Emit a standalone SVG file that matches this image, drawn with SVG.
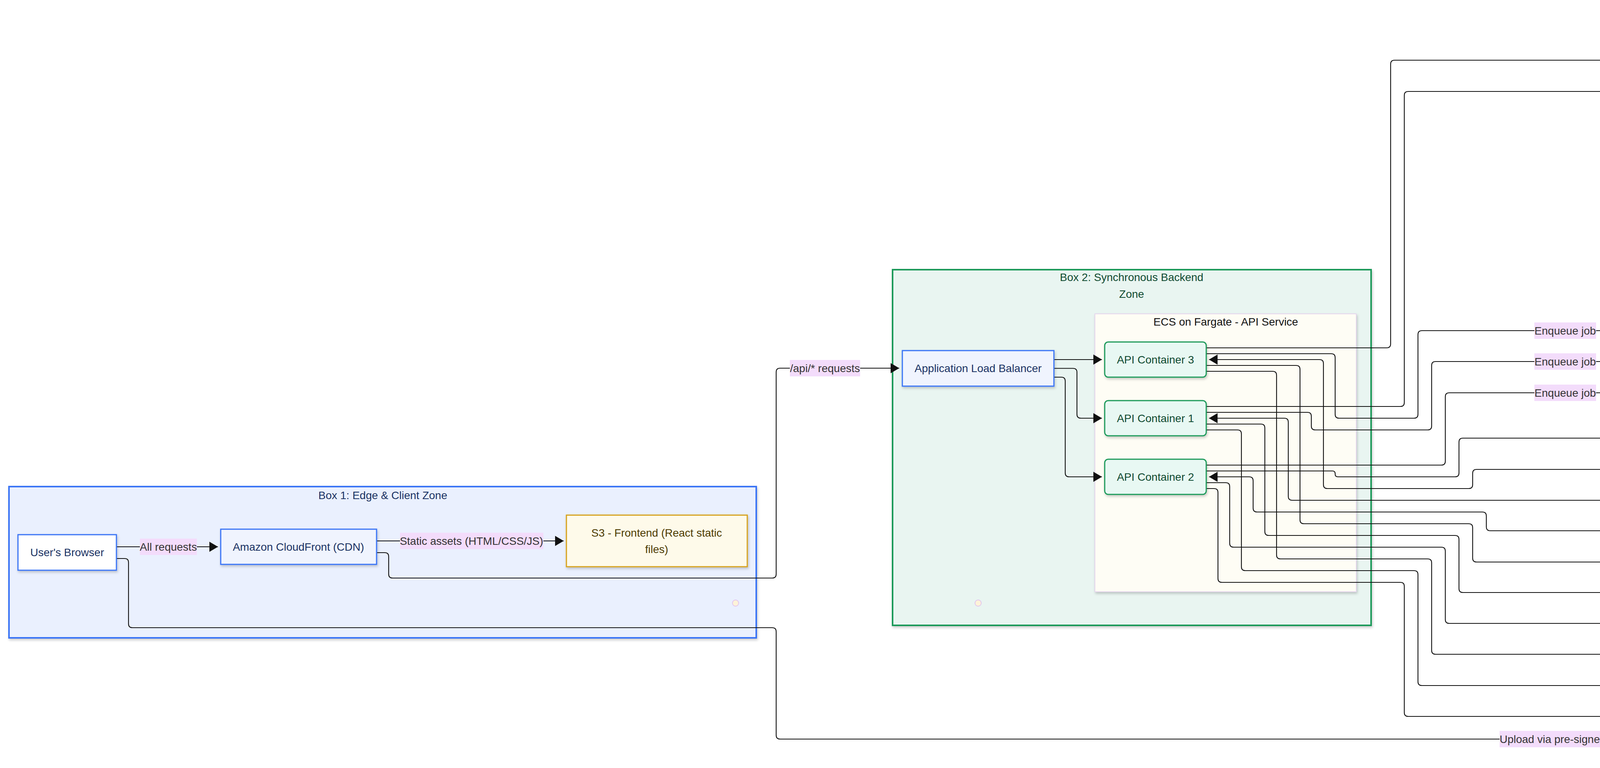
<svg xmlns="http://www.w3.org/2000/svg" width="6948" height="1965" viewBox="0 0 6948 1965">
<defs>
<filter id="sh" x="-10%" y="-10%" width="120%" height="130%">
<feDropShadow dx="2" dy="4" stdDeviation="3" flood-color="#000" flood-opacity="0.2"/>
</filter>
<marker id="arr" markerUnits="userSpaceOnUse" markerWidth="22" markerHeight="26" refX="22" refY="13" orient="auto-start-reverse" viewBox="0 0 22 26">
<path d="M0,0 L22,13 L0,26 Z" fill="#111"/>
</marker>
</defs>
<style>
text{font-family:"Liberation Sans",Arial,Helvetica,sans-serif;font-size:28px;text-anchor:middle;dominant-baseline:central}
.box{stroke-width:4;filter:url(#sh)}
.node{stroke-width:3;filter:url(#sh)}
.grp{stroke-width:2;filter:url(#sh)}
.dot{fill:#fdf3d8;stroke:#e2c6ee;stroke-width:2}
.e{fill:none;stroke:#111;stroke-width:2.2;marker-end:url(#arr)}
.bi{marker-start:url(#arr)}
.lb{fill:#f3dcfb}
.lt{fill:#333}
.blue{fill:#1a3263}
.green{fill:#0f4a30}
.brown{fill:#5c2c00}
.purple{fill:#2e1b5b}
.olive{fill:#4d3b00}
.black{fill:#111}
</style>
<rect width="6948" height="1965" fill="#ffffff"/>

<g id="box1">
<rect class="box" x="23" y="1245" width="1913" height="387" fill="#eaf0fe" stroke="#3b74f6"/>
<text class="blue" x="980" y="1267">Box 1: Edge &amp; Client Zone</text>
<ellipse class="dot" cx="1883" cy="1543" rx="8" ry="8"/>
</g>
<g id="box2">
<rect class="box" x="2285" y="690" width="1225" height="910" fill="#e9f5f1" stroke="#1e9a5a"/>
<text class="green" x="2897" y="709">Box 2: Synchronous Backend</text>
<text class="green" x="2897" y="752">Zone</text>
<ellipse class="dot" cx="2504" cy="1543" rx="8" ry="8"/>
</g>
<g id="ecs-api-service">
<rect class="grp" x="2803" y="803" width="669" height="711" fill="#fefdf5" stroke="#e6d6ee"/>
<text class="black" x="3138" y="823">ECS on Fargate - API Service</text>
</g>
<g id="box4">
<rect class="box" x="4330" y="324" width="993" height="707" fill="#fdf0e3" stroke="#ff8a1e"/>
<text class="brown" x="4826" y="346">Box 4: Asynchronous Backend</text>
<text class="brown" x="4826" y="388">Zone</text>
<ellipse class="dot" cx="4473" cy="976" rx="8" ry="8"/>
</g>
<g id="ecs-worker-service">
<rect class="grp" x="4346" y="439" width="415" height="377" fill="#fffef7" stroke="#d9c8f0"/>
<text class="black" x="4553" y="460">ECS on Fargate - Worker</text>
<text class="black" x="4553" y="501">Service</text>
</g>
<g id="box3">
<rect class="box" x="6290" y="50" width="586" height="1077" fill="#eee8fc" stroke="#6a44a8"/>
<text class="purple" x="6583" y="72">Box 3: Data &amp; Storage Zone</text>
<ellipse class="dot" cx="6628" cy="1071" rx="8" ry="8"/>
</g>

<g id="connectors">
<g id="e-all-requests">
<path class="e" d="M298,1399 L558,1399"/>
<rect class="lb" x="358" y="1378" width="146" height="42"/><text class="lt" x="431" y="1399">All requests</text>
</g>
<g id="e-static-assets">
<path class="e" d="M964,1384 L1443,1384"/>
<rect class="lb" x="1024" y="1363" width="367" height="42"/><text class="lt" x="1207" y="1384">Static assets (HTML/CSS/JS)</text>
</g>
<g id="e-api-requests">
<path class="e" d="M964,1414 L985,1414 Q995,1414 995,1424 L995,1469 Q995,1479 1005,1479 L1977,1479 Q1987,1479 1987,1469 L1987,952 Q1987,942 1997,942 L2302,942"/>
<rect class="lb" x="2022" y="921" width="180" height="42"/><text class="lt" x="2112" y="942">/api/* requests</text>
</g>
<path id="e-alb-c3" class="e" d="M2698,920 L2821,920"/>
<path id="e-alb-c1" class="e" d="M2698,942.5 L2747,942.5 Q2757,942.5 2757,952.5 L2757,1060 Q2757,1070 2767,1070 L2821,1070"/>
<path id="e-alb-c2" class="e" d="M2698,965 L2717,965 Q2727,965 2727,975 L2727,1210 Q2727,1220 2737,1220 L2821,1220"/>

<g id="e-writes-c3">
<path class="e" d="M3088,890 L3550,890 Q3560,890 3560,880 L3560,164 Q3560,154 3570,154 L6396,154"/>
<rect class="lb" x="4786" y="133" width="80" height="42"/><text class="lt" x="4826" y="154">Writes</text>
</g>
<g id="e-writes-c1">
<path class="e" d="M3088,1040 L3585,1040 Q3595,1040 3595,1030 L3595,244 Q3595,234 3605,234 L5741,234 Q5751,234 5751,224 L5751,195 Q5751,185 5761,185 L6396,185"/>
<rect class="lb" x="4786" y="213" width="80" height="42"/><text class="lt" x="4826" y="234">Writes</text>
</g>
<g id="e-writes-c2">
<path class="e" d="M3088,1205 L3411,1205 Q3418,1205 3418,1212 L3418,1213 Q3418,1220 3425,1220 L3725,1220 Q3735,1220 3735,1210 L3735,1131 Q3735,1121 3745,1121 L5846,1121 Q5856,1121 5856,1111 L5856,287 Q5856,277 5866,277 L6396,277"/>
<rect class="lb" x="4786" y="1100" width="80" height="42"/><text class="lt" x="4826" y="1121">Writes</text>
</g>

<g id="e-enqueue-c3">
<path class="e" d="M3088,905 L3408,905 Q3418,905 3418,915 L3418,1060 Q3418,1070 3428,1070 L3620,1070 Q3630,1070 3630,1060 L3630,856 Q3630,846 3640,846 L5016,846 Q5023,846 5023,853 Q5023,860 5030,860 L5078,860"/>
<rect class="lb" x="3928" y="825" width="158" height="42"/><text class="lt" x="4007" y="846">Enqueue job</text>
</g>
<g id="e-enqueue-c1">
<path class="e" d="M3088,1055 L3347,1055 Q3357,1055 3357,1065 L3357,1090 Q3357,1100 3367,1100 L3655,1100 Q3665,1100 3665,1090 L3665,935 Q3665,925 3675,925 L4199,925 Q4209,925 4209,915 L4209,888 Q4209,878 4219,878 L5078,878"/>
<rect class="lb" x="3928" y="904" width="158" height="42"/><text class="lt" x="4007" y="925">Enqueue job</text>
</g>
<g id="e-enqueue-c2">
<path class="e" d="M3088,1190 L3690,1190 Q3700,1190 3700,1180 L3700,1015 Q3700,1005 3710,1005 L4270,1005 Q4280,1005 4280,995 L4280,921 Q4280,911 4290,911 L5016,911 Q5023,911 5023,904 L5023,903 Q5023,896 5030,896 L5078,896"/>
<rect class="lb" x="3928" y="984" width="158" height="42"/><text class="lt" x="4007" y="1005">Enqueue job</text>
</g>

<g id="e-getset-c3">
<path class="e bi" d="M3095,920 L3378,920 Q3388,920 3388,930 L3388,1240 Q3388,1250 3398,1250 L3760,1250 Q3770,1250 3770,1240 L3770,1211 Q3770,1201 3780,1201 L5882,1201 Q5892,1201 5892,1191 L5892,421 Q5892,411 5902,411 L6396,411"/>
<rect class="lb" x="4766" y="1180" width="120" height="42"/><text class="lt" x="4826" y="1201">GET/SET</text>
</g>
<g id="e-getset-c1">
<path class="e bi" d="M3095,1070 L3288,1070 Q3298,1070 3298,1080 L3298,1270 Q3298,1280 3308,1280 L5916,1280 Q5926,1280 5926,1270 L5926,465 Q5926,455 5936,455 L6396,455"/>
<rect class="lb" x="4766" y="1259" width="120" height="42"/><text class="lt" x="4826" y="1280">GET/SET</text>
</g>
<g id="e-getset-c2">
<path class="e bi" d="M3095,1220 L3198,1220 Q3208,1220 3208,1230 L3208,1300 Q3208,1310 3218,1310 L3795,1310 Q3805,1310 3805,1320 L3805,1348 Q3805,1358 3815,1358 L5951,1358 Q5961,1358 5961,1348 L5961,508 Q5961,498 5971,498 L6396,498"/>
<rect class="lb" x="4766" y="1337" width="120" height="42"/><text class="lt" x="4826" y="1358">GET/SET</text>
</g>

<g id="e-reads-c3">
<path class="e" d="M3088,935 L3318,935 Q3328,935 3328,945 L3328,1330 Q3328,1340 3338,1340 L3760,1340 Q3770,1340 3770,1350 L3770,1428 Q3770,1438 3780,1438 L5986,1438 Q5996,1438 5996,1428 L5996,668 Q5996,658 6006,658 L6396,658"/>
<rect class="lb" x="4785" y="1417" width="82" height="42"/><text class="lt" x="4826" y="1438">Reads</text>
</g>
<g id="e-reads-c1">
<path class="e" d="M3088,1085 L3228,1085 Q3238,1085 3238,1095 L3238,1360 Q3238,1370 3248,1370 L3725,1370 Q3735,1370 3735,1380 L3735,1506 Q3735,1516 3745,1516 L6021,1516 Q6031,1516 6031,1506 L6031,725 Q6031,715 6041,715 L6396,715"/>
<rect class="lb" x="4785" y="1495" width="82" height="42"/><text class="lt" x="4826" y="1516">Reads</text>
</g>
<g id="e-reads-c2">
<path class="e" d="M3088,1235 L3138,1235 Q3148,1235 3148,1245 L3148,1390 Q3148,1400 3158,1400 L3690,1400 Q3700,1400 3700,1410 L3700,1585 Q3700,1595 3710,1595 L6056,1595 Q6066,1595 6066,1585 L6066,782 Q6066,772 6076,772 L6396,772"/>
<rect class="lb" x="4785" y="1574" width="82" height="42"/><text class="lt" x="4826" y="1595">Reads</text>
</g>

<g id="e-gen-c3">
<path class="e" d="M3088,950 L3258,950 Q3268,950 3268,960 L3268,1420 Q3268,1430 3278,1430 L3655,1430 Q3665,1430 3665,1440 L3665,1664 Q3665,1674 3675,1674 L6091,1674 Q6101,1674 6101,1664 L6101,906 Q6101,896 6111,896 L6340,896 Q6345,896 6345,901 L6345,902 Q6345,907 6350,907 L6396,907"/>
<rect class="lb" x="4666" y="1653" width="321" height="42"/><text class="lt" x="4826" y="1674">Generate pre-signed URL</text>
</g>
<g id="e-gen-c1">
<path class="e" d="M3088,1100 L3168,1100 Q3178,1100 3178,1110 L3178,1450 Q3178,1460 3188,1460 L3620,1460 Q3630,1460 3630,1470 L3630,1744 Q3630,1754 3640,1754 L6126,1754 Q6136,1754 6136,1744 L6136,935 Q6136,925 6146,925 L6396,925"/>
<rect class="lb" x="4666" y="1733" width="321" height="42"/><text class="lt" x="4826" y="1754">Generate pre-signed URL</text>
</g>
<g id="e-gen-c2">
<path class="e" d="M3088,1250 L3108,1250 Q3118,1250 3118,1260 L3118,1480 Q3118,1490 3128,1490 L3585,1490 Q3595,1490 3595,1500 L3595,1823 Q3595,1833 3605,1833 L6161,1833 Q6171,1833 6171,1823 L6171,967 Q6171,957 6181,957 L6339,957 Q6345,957 6345,951 L6345,950 Q6345,944 6351,944 L6396,944"/>
<rect class="lb" x="4666" y="1812" width="321" height="42"/><text class="lt" x="4826" y="1833">Generate pre-signed URL</text>
</g>
<g id="e-upload">
<path class="e" d="M298,1429 L319,1429 Q329,1429 329,1439 L329,1596 Q329,1606 339,1606 L1977,1606 Q1987,1606 1987,1616 L1987,1881 Q1987,1891 1997,1891 L6196,1891 Q6206,1891 6206,1881 L6206,995 Q6206,985 6216,985 L6363,985 Q6373,985 6373,975 L6373,972 Q6373,962 6383,962 L6396,962"/>
<rect class="lb" x="3839" y="1870" width="336" height="42"/><text class="lt" x="4007" y="1891">Upload via pre-signed URL</text>
</g>

<g id="e-exec-w2">
<path class="e" d="M4642,598 L5777,598 Q5787,598 5787,588 L5787,225 Q5787,215 5797,215 L6396,215"/>
<rect class="lb" x="5407" y="577" width="310" height="42"/><text class="lt" x="5562" y="598">Execute task (read/write)</text>
</g>
<g id="e-exec-w1">
<path class="e" d="M4642,747 L4771,747 Q4781,747 4781,737 L4781,733 Q4781,723 4791,723 L5360,723 Q5370,723 5370,713 L5370,687 Q5370,677 5380,677 L5811,677 Q5821,677 5821,667 L5821,256 Q5821,246 5831,246 L6396,246"/>
<rect class="lb" x="5407" y="656" width="310" height="42"/><text class="lt" x="5562" y="677">Execute task (read/write)</text>
</g>
<g id="e-poll">
<path class="e" d="M4761,777 L5044,777 Q5054,777 5054,787 L5054,833 Q5054,843 5064,843 L5078,843"/>
<rect class="lb" x="4812" y="756" width="182" height="42"/><text class="lt" x="4903" y="777">Poll messages</text>
</g>
</g>

<g id="users-browser">
<rect class="node" x="46" y="1368" width="252" height="91" fill="#ffffff" stroke="#3b74f6"/>
<text class="blue" x="172" y="1413">User's Browser</text>
</g>
<g id="cloudfront">
<rect class="node" x="565" y="1354" width="399" height="90" fill="#f0f4fe" stroke="#3b74f6"/>
<text class="blue" x="764" y="1399">Amazon CloudFront (CDN)</text>
</g>
<g id="s3-frontend">
<rect class="node" x="1450" y="1318" width="463" height="132" fill="#fefaea" stroke="#d6a21e"/>
<text class="olive" x="1681" y="1363">S3 - Frontend (React static</text>
<text class="olive" x="1681" y="1405">files)</text>
</g>
<g id="alb">
<rect class="node" x="2310" y="897" width="388" height="91" fill="#f0f4fe" stroke="#3b74f6"/>
<text class="blue" x="2504" y="942">Application Load Balancer</text>
</g>
<g id="api-container-3">
<rect class="node" x="2828" y="875" width="260" height="90" rx="9" fill="#e8f8f3" stroke="#1e9a5a"/>
<text class="green" x="2958" y="920">API Container 3</text>
</g>
<g id="api-container-1">
<rect class="node" x="2828" y="1025" width="260" height="90" rx="9" fill="#e8f8f3" stroke="#1e9a5a"/>
<text class="green" x="2958" y="1070">API Container 1</text>
</g>
<g id="api-container-2">
<rect class="node" x="2828" y="1175" width="260" height="90" rx="9" fill="#e8f8f3" stroke="#1e9a5a"/>
<text class="green" x="2958" y="1220">API Container 2</text>
</g>
<g id="worker-2">
<rect class="node" x="4466" y="553" width="176" height="90" rx="9" fill="#fde8d6" stroke="#ff931e"/>
<text class="brown" x="4554" y="598">Worker 2</text>
</g>
<g id="worker-1">
<rect class="node" x="4466" y="702" width="176" height="91" rx="9" fill="#fde8d6" stroke="#ff931e"/>
<text class="brown" x="4554" y="747">Worker 1</text>
</g>
<g id="sqs-queue">
<rect class="node" x="5085" y="824" width="214" height="90" fill="#fdebd8" stroke="#ff9a33"/>
<text class="brown" x="5192" y="869">SQS Queue</text>
</g>
<g id="rds-primary">
<path class="node" d="M6405,154 L6405,276 A213.5,31 0 0 0 6832,276 L6832,154 A213.5,31 0 0 0 6405,154 Z" fill="#f2ebfd" stroke="#6a44a8"/>
<path d="M6405,154 A213.5,31 0 0 0 6832,154" fill="none" stroke="#6a44a8" stroke-width="3"/>
<text class="purple" x="6618" y="230">RDS for PostgreSQL - Primary</text>
</g>
<g id="elasticache-redis">
<path class="node" d="M6405,396 L6405,513 A158,28 0 0 0 6721,513 L6721,396 A158,28 0 0 0 6405,396 Z" fill="#fef6e6" stroke="#f5a21e"/>
<path d="M6405,396 A158,28 0 0 0 6721,396" fill="none" stroke="#f5a21e" stroke-width="3"/>
<text class="brown" x="6563" y="469">ElastiCache for Redis</text>
</g>
<g id="rds-read-replica">
<path class="node" d="M6405,633 L6405,798 A223.5,32 0 0 0 6852,798 L6852,633 A223.5,32 0 0 0 6405,633 Z" fill="#f2ebfd" stroke="#6a44a8"/>
<path d="M6405,633 A223.5,32 0 0 0 6852,633" fill="none" stroke="#6a44a8" stroke-width="3"/>
<text class="purple" x="6628" y="709">RDS for PostgreSQL - Read</text>
<text class="purple" x="6628" y="751">Replica</text>
</g>
<g id="s3-photos">
<rect class="node" x="6405" y="889" width="321" height="91" fill="#fef9e6" stroke="#d6a21e"/>
<text class="olive" x="6565" y="934">S3 - Photos/Uploads</text>
</g>
</svg>
